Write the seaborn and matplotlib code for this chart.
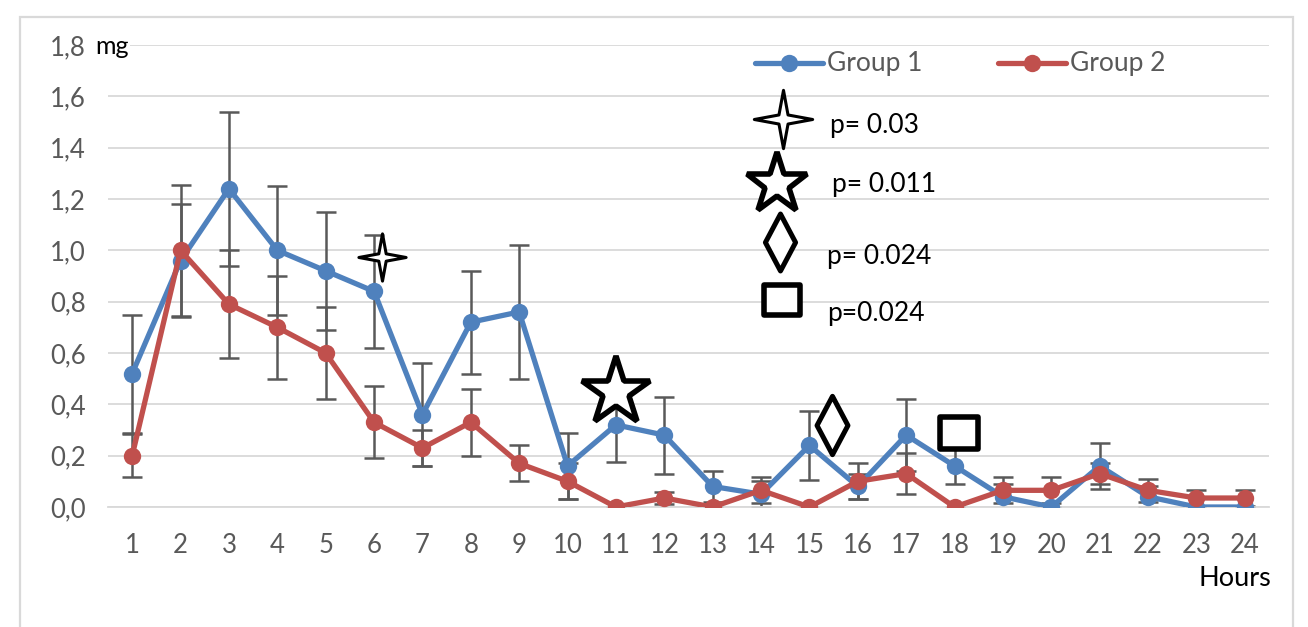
import numpy as np
import pandas as pd
import matplotlib
matplotlib.use("Agg")
import matplotlib.pyplot as plt
import seaborn as sns
from matplotlib.path import Path
from matplotlib.lines import Line2D
from matplotlib.patches import Rectangle

# ---------------- data ----------------
hours = list(range(1, 25))
group1 = [0.52, 0.96, 1.24, 1.00, 0.92, 0.84, 0.36, 0.72, 0.76, 0.16, 0.32, 0.28,
          0.08, 0.05, 0.24, 0.08, 0.28, 0.16, 0.04, 0.00, 0.16, 0.04, 0.00, 0.00]
group1_err = [0.23, 0.22, 0.30, 0.25, 0.23, 0.22, 0.20, 0.20, 0.26, 0.13, 0.145, 0.15,
              0.06, 0.05, 0.135, 0.05, 0.14, 0.07, 0.05, 0.0, 0.09, 0.04, 0.0, 0.0]
group2 = [0.20, 1.00, 0.79, 0.70, 0.60, 0.33, 0.23, 0.33, 0.17, 0.10, 0.00, 0.035,
          0.00, 0.065, 0.00, 0.10, 0.13, 0.00, 0.065, 0.065, 0.13, 0.065, 0.035, 0.035]
group2_err = [0.085, 0.255, 0.21, 0.20, 0.18, 0.14, 0.07, 0.13, 0.07, 0.07, 0.0, 0.025,
              0.0, 0.05, 0.0, 0.07, 0.08, 0.0, 0.05, 0.05, 0.04, 0.045, 0.03, 0.03]
y_ticks = [0.0, 0.2, 0.4, 0.6, 0.8, 1.0, 1.2, 1.4, 1.6, 1.8]
y_tick_labels = ["0,0", "0,2", "0,4", "0,6", "0,8", "1,0", "1,2", "1,4", "1,6", "1,8"]
sig_x = [6.17, 11.0, 15.47, 18.1]
sig_y = [0.975, 0.45, 0.32, 0.29]
sig_labels = ["p= 0.03", "p= 0.011", "p= 0.024", "p=0.024"]

BLUE = "#4F81BD"
RED = "#C0504D"
GRAY = "#595959"

# ---------------- markers ----------------
def four_star(inner=0.22):
    verts = []
    for k in range(8):
        ang = np.pi / 2 + k * np.pi / 4
        r = 1.0 if k % 2 == 0 else inner
        verts.append((r * np.cos(ang), r * np.sin(ang)))
    verts.append(verts[0])
    codes = [Path.MOVETO] + [Path.LINETO] * 7 + [Path.CLOSEPOLY]
    return Path(verts, codes)

diamond = Path([(0, 1), (0.53, 0), (0, -1), (-0.53, 0), (0, 1)],
               [Path.MOVETO, Path.LINETO, Path.LINETO, Path.LINETO, Path.CLOSEPOLY])
rect = Path([(-1, -0.83), (1, -0.83), (1, 0.83), (-1, 0.83), (-1, -0.83)],
            [Path.MOVETO, Path.LINETO, Path.LINETO, Path.LINETO, Path.CLOSEPOLY])
sig_markers = [four_star(), "*", diamond, rect]
sig_sizes_chart = [34, 52, 42, 28]
sig_sizes_leg = [42, 46, 41, 26]
sig_mew = [2.2, 4.0, 3.6, 4.0]

# ---------------- figure ----------------
sns.set_theme(style="white")
plt.rcParams["font.family"] = ["Lato", "DejaVu Sans"]

W, H = 1308, 627
fig = plt.figure(figsize=(W / 100, H / 100), dpi=100)
fig.patch.set_facecolor("white")

def fx(x):
    return x / W

def fy(y):
    return 1 - y / H

fig.add_artist(Rectangle((fx(20), fy(640)), fx(1293) - fx(20), fy(17) - fy(640),
                         transform=fig.transFigure, fill=False,
                         edgecolor="#D9D9D9", linewidth=1.6, zorder=0))

ax = fig.add_axes([fx(108), fy(507), fx(1269) - fx(108), fy(45) - fy(507)])
ax.set_facecolor("none")

df = pd.DataFrame({
    "Hour": hours * 2,
    "mg": group1 + group2,
    "Group": ["Group 1"] * len(hours) + ["Group 2"] * len(hours),
})

ax.errorbar(hours, group1, yerr=group1_err, fmt="none", ecolor=GRAY,
            elinewidth=1.8, capsize=7, capthick=1.8, zorder=2)
ax.errorbar(hours, group2, yerr=group2_err, fmt="none", ecolor=GRAY,
            elinewidth=1.8, capsize=7, capthick=1.8, zorder=2)

sns.lineplot(data=df, x="Hour", y="mg", hue="Group",
             palette={"Group 1": BLUE, "Group 2": RED},
             marker="o", markersize=12.5, markeredgewidth=0, linewidth=3.8,
             legend=False, ax=ax, zorder=3)

for x, y, m, s, w in zip(sig_x, sig_y, sig_markers, sig_sizes_chart, sig_mew):
    ax.plot([x], [y], marker=m, markersize=s, markerfacecolor="white",
            markeredgecolor="black", markeredgewidth=w, linestyle="none", zorder=5)

ax.set_xlim(0.5, 24.5)
ax.set_ylim(0, 1.8)
ax.set_xticks(hours)
ax.set_xticklabels([str(h) for h in hours])
ax.set_yticks(y_ticks)
ax.set_yticklabels(y_tick_labels)
ax.tick_params(axis="both", length=0, labelsize=18.5, labelcolor=GRAY)
ax.tick_params(axis="x", pad=19)
ax.tick_params(axis="y", pad=16)
ax.set_xlabel("")
ax.set_ylabel("")
ax.yaxis.grid(True, color="#D9D9D9", linewidth=1.3, zorder=0)
ax.xaxis.grid(False)
for side in ["left", "right", "top"]:
    ax.spines[side].set_visible(False)
ax.spines["bottom"].set_color("#D9D9D9")
ax.spines["bottom"].set_linewidth(1.3)

fig.text(fx(95), fy(47), "mg", ha="left", va="center", fontsize=18, color="black",
         bbox=dict(facecolor="white", edgecolor="none", pad=1))
fig.text(fx(1271), fy(578), "Hours", ha="right", va="center", fontsize=19.5, color="black")

# ---------------- legend ----------------
for (x0, x1, xt, label, col) in [(755, 823, 827, "Group 1", BLUE), (998, 1066, 1070, "Group 2", RED)]:
    fig.add_artist(Line2D([fx(x0), fx(x1)], [fy(63), fy(63)], transform=fig.transFigure,
                          color=col, linewidth=3.8, zorder=6))
    fig.add_artist(Line2D([fx((x0 + x1) / 2)], [fy(63)], transform=fig.transFigure,
                          marker="o", markersize=12.5, markeredgewidth=0, color=col, zorder=7))
    fig.text(fx(xt), fy(64), label, ha="left", va="center", fontsize=19, color=GRAY)

leg_marker_pos = [(783, 119), (777, 184), (780, 242), (782, 300)]
leg_text_pos = [(830, 125), (832, 185), (827, 256), (827, 314)]
for (mx, my), (tx, ty), m, s, w, lab in zip(leg_marker_pos, leg_text_pos, sig_markers,
                                          sig_sizes_leg, sig_mew, sig_labels):
    fig.add_artist(Line2D([fx(mx)], [fy(my)], transform=fig.transFigure, marker=m,
                          markersize=s, markerfacecolor="white", markeredgecolor="black",
                          markeredgewidth=w, linestyle="none", zorder=7))
    fig.text(fx(tx), fy(ty), lab, ha="left", va="center", fontsize=19, color="black")

fig.savefig("out.png", dpi=100, facecolor="white")
